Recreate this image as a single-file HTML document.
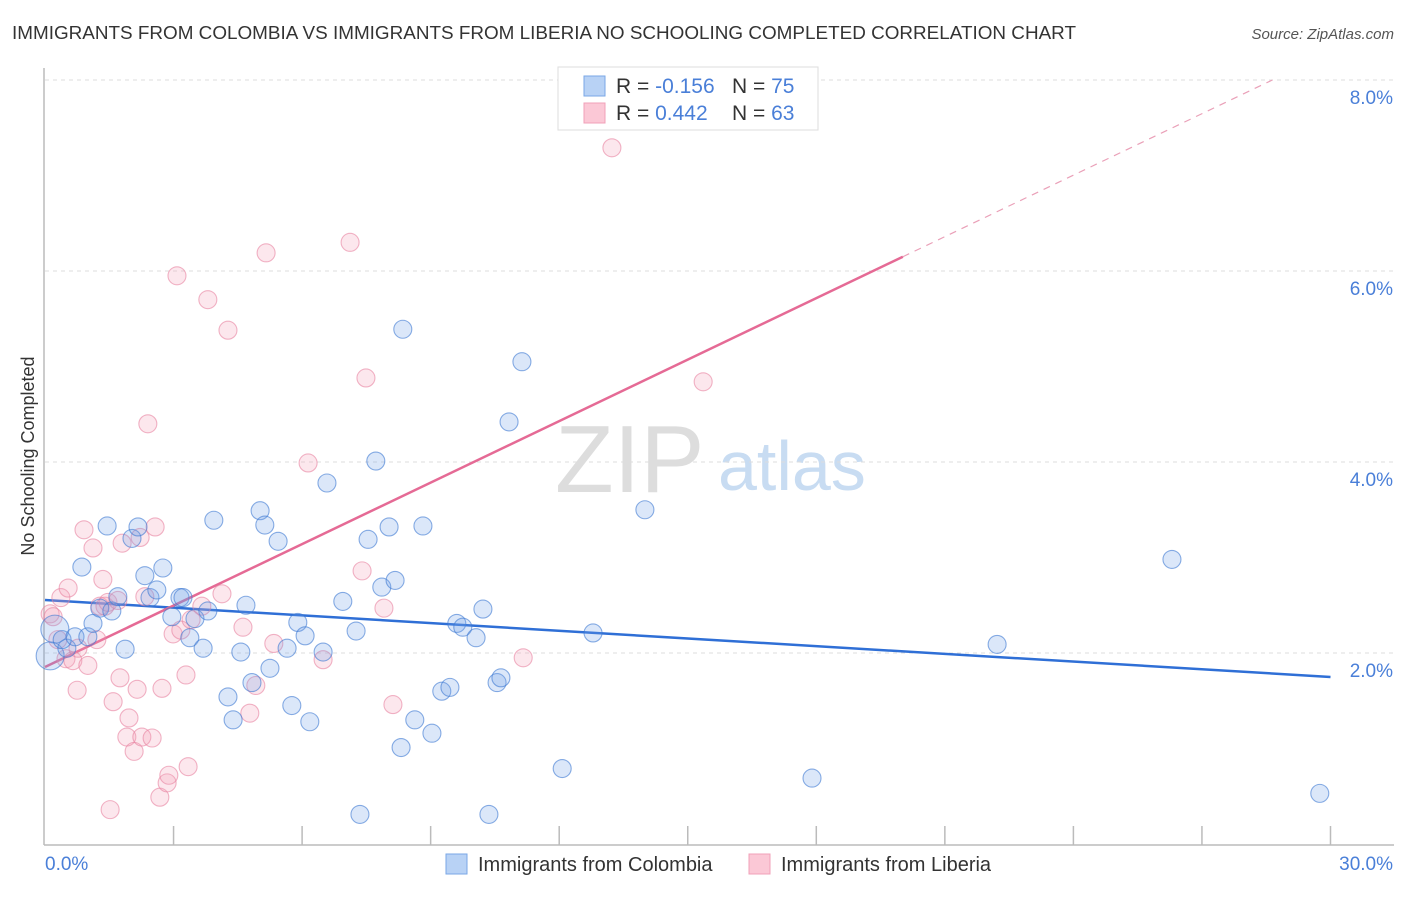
<!DOCTYPE html>
<html><head><meta charset="utf-8"><style>
body{margin:0;background:#fff;font-family:"Liberation Sans",sans-serif;}
svg text{font-family:"Liberation Sans",sans-serif;}
</style></head><body>
<svg id="chart" width="1406" height="892" viewBox="0 0 1406 892" xmlns="http://www.w3.org/2000/svg">
<text x="12" y="39" font-size="18" fill="#333" textLength="1064" lengthAdjust="spacingAndGlyphs">IMMIGRANTS FROM COLOMBIA VS IMMIGRANTS FROM LIBERIA NO SCHOOLING COMPLETED CORRELATION CHART</text>
<text x="1394" y="39" font-size="15" fill="#555" font-style="italic" text-anchor="end">Source: ZipAtlas.com</text>
<text transform="translate(34,456) rotate(-90)" font-size="18" fill="#333" text-anchor="middle">No Schooling Completed</text>
<text x="555" y="492" font-size="96" fill="#ddd" font-family="Liberation Serif">ZIP</text>
<text x="718" y="490" font-size="70" fill="#c8dcf2">atlas</text>
<g id="grid"></g>
<g id="axes"></g>
<g id="lines"></g>
<g id="pts"></g>
<g>
<rect x="558" y="67" width="260" height="63" fill="#fff" stroke="#ddd"/>
<rect x="584" y="76" width="21" height="20" fill="#b8d2f5" stroke="#7aa7e6"/>
<rect x="584" y="103" width="21" height="20" fill="#fbc8d6" stroke="#f0a0b8"/>
<text x="616" y="93" font-size="21" fill="#333">R = <tspan fill="#4a7fd8">-0.156</tspan></text>
<text x="732" y="93" font-size="21" fill="#333">N = <tspan fill="#4a7fd8">75</tspan></text>
<text x="616" y="120" font-size="21" fill="#333">R = <tspan fill="#4a7fd8"> 0.442</tspan></text>
<text x="732" y="120" font-size="21" fill="#333">N = <tspan fill="#4a7fd8">63</tspan></text>
</g>
<g>
<rect x="446" y="854" width="21" height="20" fill="#b8d2f5" stroke="#7aa7e6"/>
<text x="478" y="871" font-size="20" fill="#333">Immigrants from Colombia</text>
<rect x="749" y="854" width="21" height="20" fill="#fbc8d6" stroke="#f0a0b8"/>
<text x="781" y="871" font-size="20" fill="#333">Immigrants from Liberia</text>
</g>
</svg>
<script>
const yTicks=[2,4,6,8];
const yTickLabels=["2.0%","4.0%","6.0%","8.0%"];
const xTicks=[0,3,6,9,12,15,18,21,24,27,30];
const blueX=[0.23,0.12,0.51,0.40,0.70,1.00,1.12,0.86,1.28,1.56,1.45,1.87,1.70,2.03,2.17,2.33,2.45,2.61,2.75,3.15,3.22,2.96,3.38,3.50,3.69,3.80,3.94,4.27,4.39,4.57,4.69,4.83,5.02,5.13,5.25,5.44,5.65,5.76,5.90,6.07,6.18,6.49,6.58,6.95,7.26,7.35,7.54,7.72,7.86,8.03,8.17,8.31,8.35,8.63,8.82,9.03,9.26,9.45,9.61,9.75,10.06,10.22,10.36,10.55,10.64,10.83,11.13,12.07,12.79,14.00,17.90,22.22,26.30,29.75];
const blueY=[2.25,1.97,2.05,2.14,2.17,2.17,2.31,2.90,2.47,2.44,3.33,2.04,2.59,3.20,3.32,2.81,2.58,2.66,2.89,2.58,2.58,2.38,2.16,2.36,2.05,2.44,3.39,1.54,1.30,2.01,2.50,1.69,3.49,3.34,1.84,3.17,2.05,1.45,2.32,2.18,1.28,2.01,3.78,2.54,2.23,0.31,3.19,4.01,2.69,3.32,2.76,1.01,5.39,1.30,3.33,1.16,1.60,1.64,2.31,2.27,2.16,2.46,0.31,1.69,1.74,4.42,5.05,0.79,2.21,3.50,0.69,2.09,2.98,0.53];
const pinkX=[0.12,0.19,0.30,0.37,0.49,0.54,0.65,0.77,0.75,0.91,1.00,1.12,1.21,1.28,1.35,1.40,1.59,1.47,1.75,1.70,1.80,1.96,1.91,2.08,2.15,2.22,2.26,2.33,2.40,2.50,2.57,2.68,2.73,2.85,2.89,2.99,3.08,3.17,3.29,3.34,3.41,3.66,3.80,4.13,4.27,4.62,4.78,4.92,5.16,5.34,6.14,6.49,7.12,7.40,7.49,7.91,8.12,11.16,13.23,15.36,1.52];
const pinkY=[2.41,2.38,2.14,2.58,1.94,2.68,1.92,2.05,1.61,3.29,1.87,3.10,2.14,2.49,2.77,2.49,1.49,2.53,1.74,2.55,3.15,1.32,1.12,0.97,1.62,3.21,1.12,2.59,4.40,1.11,3.32,0.49,1.63,0.64,0.72,2.20,5.95,2.24,1.77,0.81,2.35,2.49,5.70,2.62,5.38,2.27,1.37,1.66,6.19,2.10,3.99,1.93,6.30,2.86,4.88,2.47,1.46,1.95,7.29,4.84,0.36];
const blueTrend=[2.555,1.749];
const pinkTrend=[1.853,0.2146];

const NS="http://www.w3.org/2000/svg";
const sx=v=>45+v*42.85;
const sy=v=>844-v*95.5;
function mk(tag,attrs,parent){const e=document.createElementNS(NS,tag);for(const k in attrs)e.setAttribute(k,attrs[k]);document.getElementById(parent).appendChild(e);return e;}
yTicks.forEach((t,i)=>{
  const g=mk('line',{x1:45,x2:1394,y1:sy(t),y2:sy(t),stroke:'#ddd','stroke-dasharray':'4,4'},'grid');
  
  
  const l=mk('text',{x:1393,y:sy(t)+24,'font-size':19,fill:'#4a7fd8','text-anchor':'end'},'grid');
  l.textContent=yTickLabels[i];
  
  
});
const ax=mk('line',{x1:44,x2:44,y1:68,y2:845,stroke:'#bbb','stroke-width':1.5},'axes');


const bx=mk('line',{x1:44,x2:1394,y1:845,y2:845,stroke:'#bbb','stroke-width':1.5},'axes');


xTicks.forEach(t=>{if(t===0)return;
  const k=mk('line',{x1:sx(t),x2:sx(t),y1:826,y2:845,stroke:'#bbb','stroke-width':1.5},'axes');
  
  
});
const xl0=mk('text',{x:45,y:870,'font-size':19,fill:'#4a7fd8'},'axes');xl0.textContent=xTicks[0].toFixed(1)+'%';


const xl1=mk('text',{x:1393,y:870,'font-size':19,fill:'#4a7fd8','text-anchor':'end'},'axes');xl1.textContent=xTicks[xTicks.length-1].toFixed(1)+'%';



function dot(x,y,r,fill,stroke,name){
  const c=mk('circle',{cx:sx(x),cy:sy(y),r:r,fill:fill,stroke:stroke,'stroke-width':1.1},'pts');
  
  
}
pinkX.forEach((x,i)=>dot(x,pinkY[i],9,'rgba(245,160,185,0.25)','rgba(232,130,160,0.6)','liberia-point'));
blueX.forEach((x,i)=>dot(x,blueY[i],(i<2?14:9),'rgba(110,160,230,0.25)','rgba(60,120,210,0.6)','colombia-point'));

const bl=mk('line',{x1:sx(0),y1:sy(blueTrend[0]),x2:sx(30),y2:sy(blueTrend[1]),stroke:'#2f6fd6','stroke-width':2.5},'lines');


const xEnd=20.02, xTop=(8-pinkTrend[0])/pinkTrend[1];
const pl=mk('line',{x1:sx(0),y1:sy(pinkTrend[0]),x2:sx(xEnd),y2:sy(pinkTrend[0]+pinkTrend[1]*xEnd),stroke:'#e56a95','stroke-width':2.5},'lines');


const pd=mk('line',{x1:sx(xEnd),y1:sy(pinkTrend[0]+pinkTrend[1]*xEnd),x2:sx(xTop),y2:sy(8),stroke:'#eaa0b8','stroke-width':1.2,'stroke-dasharray':'7,6'},'lines');


</script>
</body></html>
